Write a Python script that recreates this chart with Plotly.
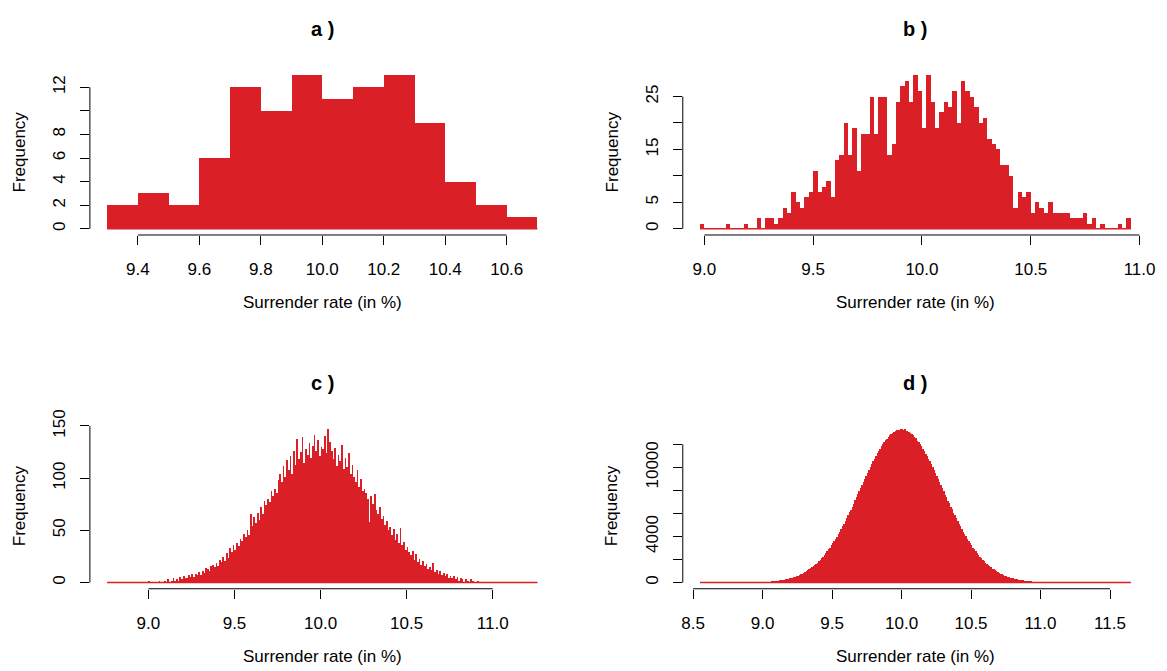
import plotly.graph_objects as go

W, H = 1167, 671
RED = "#DA1F26"
FONT = "Liberation Sans, Arial, Helvetica, sans-serif"

# ---------------- data ----------------
# a) 100 simulations, bin width 0.1
a_start, a_width = 9.3, 0.1
a_counts = [2, 3, 2, 6, 12, 10, 13, 11, 12, 13, 9, 4, 2, 1]
a_xticks = [9.4, 9.6, 9.8, 10.0, 10.2, 10.4, 10.6]
a_yticks = [0, 2, 4, 6, 8, 10, 12]
a_ylabels = ["0", "2", "4", "6", "8", "", "12"]

# b) 1000 simulations, bin width 0.02
b_start, b_width = 8.98, 0.02
b_counts = [1, 0, 0, 0, 0, 0, 1, 0, 0, 0, 1, 0, 0, 2, 0, 2, 2, 1, 2, 4,
            3, 7, 5, 4, 6, 7, 11, 7, 8, 9, 6, 13, 14, 20, 14, 19, 11, 18, 18, 25,
            18, 25, 25, 14, 16, 24, 27, 28, 24, 29, 26, 19, 29, 24, 19, 22, 24, 23, 26, 20,
            28, 26, 25, 23, 20, 21, 17, 16, 15, 12, 12, 10, 4, 7, 6, 7, 3, 5, 4, 3,
            5, 3, 3, 3, 3, 2, 2, 2, 3, 1, 2, 0, 1, 0, 0, 0, 1, 0, 2]
b_xticks = [9.0, 9.5, 10.0, 10.5, 11.0]
b_yticks = [0, 5, 10, 15, 20, 25]
b_ylabels = ["0", "5", "", "15", "", "25"]

# c) 10000 simulations, bin width 0.01
c_start, c_width = 8.76, 0.01
c_counts = [0, 1, 0, 0, 1, 0, 0, 0, 0, 0, 0, 1, 1, 0, 1, 0, 1, 0, 1, 0, 0, 1, 1, 0, 2,
            1, 0, 1, 0, 1, 2, 1, 0, 2, 1, 3, 1, 2, 4, 2, 3, 2, 5, 3, 6, 4, 4, 7, 5, 8,
            5, 8, 7, 10, 7, 11, 9, 14, 13, 11, 16, 17, 15, 19, 16, 22, 20, 25, 21, 28, 24, 33, 29, 36, 31,
            38, 35, 42, 40, 47, 44, 50, 46, 66, 54, 63, 57, 67, 60, 72, 66, 78, 74, 80, 77, 88, 83, 90, 86, 98,
            104, 96, 112, 101, 117, 108, 121, 104, 126, 113, 138, 118, 125, 139, 115, 128, 122, 134, 119, 131, 141, 126, 137, 121, 130,
            128, 140, 124, 147, 135, 126, 118, 129, 112, 122, 116, 132, 109, 119, 111, 124, 104, 113, 101, 96, 108, 92, 99, 88, 90,
            86, 80, 58, 83, 75, 85, 70, 66, 72, 61, 64, 55, 59, 50, 53, 46, 51, 41, 47, 38, 52, 36, 39, 31, 34,
            29, 26, 30, 22, 27, 20, 23, 17, 21, 16, 18, 13, 15, 12, 19, 10, 12, 8, 11, 7, 9, 6, 8, 4, 6,
            4, 6, 3, 5, 2, 4, 3, 1, 3, 2, 1, 3, 2, 0, 1, 2, 1, 0, 1, 1, 0, 1, 0, 0, 1,
            0, 0, 1, 0, 0, 0, 1, 0, 0, 0, 0, 0, 0, 1, 0, 0, 0, 0, 0, 0, 0, 0, 0, 0, 1]
c_xticks = [9.0, 9.5, 10.0, 10.5, 11.0]
c_yticks = [0, 50, 100, 150]
c_ylabels = ["0", "50", "100", "150"]

# d) 1000000 simulations, bin width 0.01
d_start, d_width = 8.55, 0.01
d_counts = [1, 0, 0, 0, 0, 1, 0, 0, 1, 0, 1, 0, 1, 1,
            1, 2, 1, 2, 1, 3, 2, 4, 3, 3, 5, 4, 6, 7, 6, 9, 8, 11, 12, 14, 15, 18, 19, 21, 25, 27, 30, 36, 38, 44,
            48, 54, 61, 68, 75, 84, 93, 103, 115, 127, 140, 155, 171, 189, 208, 229, 252, 276, 303, 332, 363, 397,
            433, 473, 515, 560, 609, 661, 717, 777, 841, 909, 981, 1058, 1140, 1226, 1318, 1416, 1518, 1627, 1741,
            1861, 1987, 2119, 2257, 2402, 2554, 2712, 2876, 3047, 3225, 3409, 3600, 3797, 4001, 4211, 4427, 4648,
            4876, 5109, 5347, 5590, 5838, 6089, 6345, 6604, 6866, 7130, 7396, 7664, 7932, 8201, 8470, 8738, 9004,
            9268, 9529, 9786, 10039, 10288, 10531, 10767, 10970, 11219, 11433, 11638, 11860, 12019, 12194, 12358,
            12478, 12650, 12810, 12891, 12991, 13078, 13188, 13210, 13219, 13283, 13298,
            13321, 13240, 13302, 13178, 13190, 13034, 13027, 12860, 12812, 12611,
            12547, 12330, 12221, 11988, 11859, 11607, 11462, 11190, 11025, 10741,
            10560, 10262, 10065, 9760, 9551, 9243, 9027, 8716, 8491, 8180,
            7951, 7645, 7413, 7112, 6882, 6589, 6359, 6075, 5851, 5578,
            5358, 5098, 4886, 4639, 4435, 4203, 4008, 3791, 3606, 3404,
            3230, 3043, 2880, 2708, 2557, 2399, 2260, 2116, 1989, 1858,
            1743, 1625, 1520, 1414, 1320, 1224, 1142, 1056, 983, 907,
            843, 775, 719, 659, 611, 558, 517, 471, 435, 395,
            365, 330, 305, 274, 254, 227, 210, 187, 173, 153,
            142, 125, 116, 102, 94, 82, 77, 66, 62, 53,
            50, 42, 40, 34, 32, 27, 25, 21, 19, 18,
            14, 14, 11, 10, 9, 7, 8, 6, 5, 4,
            4, 3, 3, 2, 3, 2, 1, 2, 1, 1, 0,
            1, 0, 0, 1, 0, 0, 0, 1, 0, 0, 0, 0, 0, 0, 1, 0, 0, 0, 0, 0, 0, 0, 0, 0,
            0, 0, 0, 0, 0, 0, 0, 0, 0, 1]
d_xticks = [8.5, 9.0, 9.5, 10.0, 10.5, 11.0, 11.5]
d_yticks = [0, 2000, 4000, 6000, 8000, 10000, 12000]
d_ylabels = ["0", "", "4000", "", "", "10000", ""]

titles = ["a )", "b )", "c )", "d )"]
x_title = "Surrender rate (in %)"
y_title = "Frequency"

# ---------------- layout geometry (pixels) ----------------
LEFT_X = (89.5, 557.5)
RIGHT_X = (686.5, 1155.0)
TOP_Y = (56.4, 225.7)
BOT_Y = (417.7, 587.0)

panels = [
    dict(start=a_start, width=a_width, counts=a_counts, xt=a_xticks, yt=a_yticks, yl=a_ylabels, px=LEFT_X, py=TOP_Y),
    dict(start=b_start, width=b_width, counts=b_counts, xt=b_xticks, yt=b_yticks, yl=b_ylabels, px=RIGHT_X, py=TOP_Y),
    dict(start=c_start, width=c_width, counts=c_counts, xt=c_xticks, yt=c_yticks, yl=c_ylabels, px=LEFT_X, py=BOT_Y),
    dict(start=d_start, width=d_width, counts=d_counts, xt=d_xticks, yt=d_yticks, yl=d_ylabels, px=RIGHT_X, py=BOT_Y),
]

fig = go.Figure()
layout = {}
shapes = []
annotations = []
TICKFONT = dict(family=FONT, size=17, color="black")

for n, p in enumerate(panels, start=1):
    xs = "x" if n == 1 else f"x{n}"
    ys = "y" if n == 1 else f"y{n}"
    nb = len(p["counts"])
    centers = [p["start"] + p["width"] * (i + 0.5) for i in range(nb)]
    lo = p["start"]
    hi = p["start"] + p["width"] * nb
    pad = 0.04 * (hi - lo)
    ymax = max(p["counts"])
    ypad = 0.04 * ymax

    # zero-height border line (as R draws borders of empty bins)
    fig.add_trace(go.Scatter(x=[lo, hi], y=[0, 0], mode="lines",
                             line=dict(color=RED, width=1.5),
                             xaxis=xs, yaxis=ys, showlegend=False, hoverinfo="skip"))
    fig.add_trace(go.Bar(x=centers, y=p["counts"], width=[p["width"]] * nb,
                         marker=dict(color=RED, line=dict(width=0)),
                         xaxis=xs, yaxis=ys, showlegend=False))

    dx = [p["px"][0] / W, p["px"][1] / W]
    dy = [1 - p["py"][1] / H, 1 - p["py"][0] / H]
    layout["xaxis" if n == 1 else f"xaxis{n}"] = dict(
        domain=dx, range=[lo - pad, hi + pad], anchor=ys,
        tickvals=p["xt"], ticktext=[f"{v:.1f}" for v in p["xt"]],
        ticks="outside", ticklen=9, tickwidth=1, tickcolor="black",
        showline=False, showgrid=False, zeroline=False,
        tickfont=TICKFONT, ticklabelstandoff=10, fixedrange=True)
    layout["yaxis" if n == 1 else f"yaxis{n}"] = dict(
        domain=dy, range=[-ypad, ymax + ypad], anchor=xs,
        tickvals=p["yt"], ticktext=p["yl"], tickangle=-90,
        ticks="outside", ticklen=9, tickwidth=1, tickcolor="black",
        showline=False, showgrid=False, zeroline=False,
        tickfont=TICKFONT, ticklabelstandoff=8, fixedrange=True)

    # R-style axis lines spanning first..last tick
    shapes.append(dict(type="line", xref=xs, yref=f"{ys} domain",
                       x0=p["xt"][0], x1=p["xt"][-1], y0=0, y1=0,
                       line=dict(color="black", width=1)))
    shapes.append(dict(type="line", xref=f"{xs} domain", yref=ys,
                       x0=0, x1=0, y0=p["yt"][0], y1=p["yt"][-1],
                       line=dict(color="black", width=1)))

    cx = (p["px"][0] + p["px"][1]) / 2 / W
    cy = (p["py"][0] + p["py"][1]) / 2
    annotations.append(dict(text=f"<b>{titles[n-1]}</b>", x=cx, y=1 - (p["py"][0] - 41) / H,
                            xref="paper", yref="paper", showarrow=False,
                            xanchor="center", yanchor="middle",
                            font=dict(family=FONT, size=20, color="black")))
    annotations.append(dict(text=x_title, x=cx, y=1 - (p["py"][1] + 69) / H,
                            xref="paper", yref="paper", showarrow=False,
                            xanchor="center", yanchor="middle",
                            font=dict(family=FONT, size=17, color="black")))
    annotations.append(dict(text=y_title, x=(p["px"][0] - 71) / W, y=1 - cy / H,
                            xref="paper", yref="paper", showarrow=False, textangle=-90,
                            xanchor="center", yanchor="middle",
                            font=dict(family=FONT, size=17, color="black")))

fig.update_layout(
    width=W, height=H, autosize=False,
    margin=dict(l=0, r=0, t=0, b=0),
    paper_bgcolor="white", plot_bgcolor="white",
    bargap=0, barmode="overlay",
    shapes=shapes, annotations=annotations,
    font=dict(family=FONT, color="black"),
    **layout,
)

fig.write_html("out.html",
               config={"displayModeBar": False, "staticPlot": True},
               post_script="document.body.style.margin='0';document.body.style.padding='0';"
                           "document.body.style.overflow='hidden';")
